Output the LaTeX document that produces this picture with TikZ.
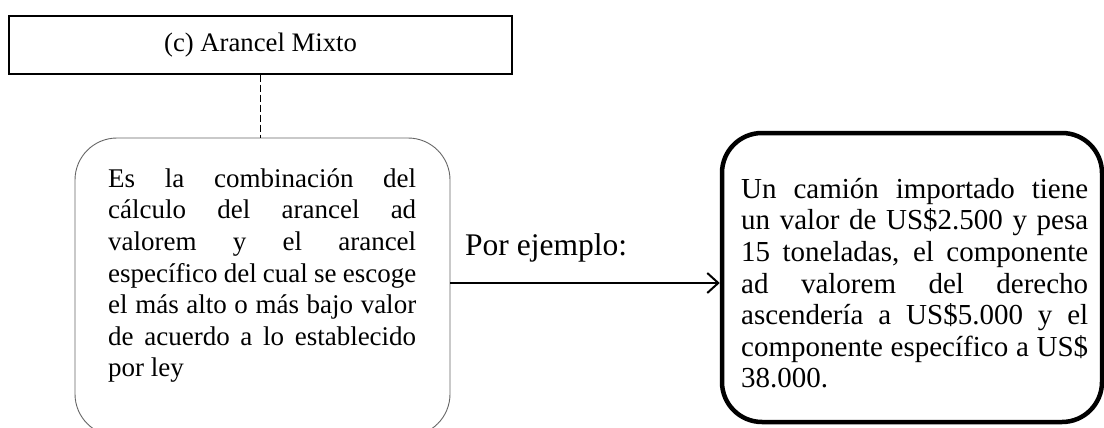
\documentclass[tikz,border=0pt]{standalone}
\usepackage{fontspec}
\setmainfont{Liberation Serif}
\usetikzlibrary{arrows.meta}
\tikzset{
  x=1pt, y=1pt,
  titlebox/.style={draw=black, line width=1.4pt, minimum width=503pt, minimum height=58pt, inner sep=0pt, font=\fontsize{26.7}{31.6}\selectfont},
  defbox/.style={draw=black!60, line width=0.9pt, rounded corners=42pt, minimum width=375pt, minimum height=298pt, inner sep=0pt},
  exbox/.style={draw=black, line width=4.5pt, rounded corners=40pt, minimum width=380pt, minimum height=289pt, inner sep=0pt},
  bodytext/.style={inner sep=0pt, align=justify, font=\fontsize{27}{31.6}\selectfont},
  dashlink/.style={draw=black, line width=1.3pt, dash pattern=on 7pt off 3pt},
  arrowlink/.style={draw=black, line width=2pt, -{Straight Barb[length=11pt,width=20pt,line width=2pt]}},
}
\begin{document}
\begin{tikzpicture}
\useasboundingbox (0,0) rectangle (1104,-428);
% top box
\node[titlebox] (tbox) at (260.5,-45) {(c) Arancel Mixto};
% definition box
\node[defbox] (lbox) at (262.5,-287) {};
\node[bodytext, text width=308pt, anchor=north west] (ltext) at (108,-165) {\strut Es la combinación del\linebreak cálculo del arancel ad\linebreak valorem y el arancel\linebreak específico del cual se escoge\linebreak el más alto o más bajo valor\linebreak de acuerdo a lo establecido\linebreak por ley};
% example box
\node[exbox] (rbox) at (912,-277.5) {};
\node[bodytext, text width=347pt, anchor=north west, font=\fontsize{29}{31.6}\selectfont] (rtext) at (741,-176) {\strut Un camión importado tiene\linebreak un valor de US\$2.500 y pesa\linebreak 15 toneladas, el componente\linebreak ad valorem del derecho\linebreak ascendería a US\$5.000 y el\linebreak componente específico a US\$\linebreak 38.000.};
% label
\node[inner sep=0pt, anchor=base west, font=\fontsize{31.5}{36}\selectfont] (lab) at (465,-255) {Por ejemplo:};
% connectors
\coordinate (ay) at (0,-283);
\draw[dashlink] (tbox.south) -- (tbox.south |- lbox.north);
\draw[arrowlink] (lbox.east |- ay) -- (rbox.west |- ay);
\end{tikzpicture}
\end{document}
